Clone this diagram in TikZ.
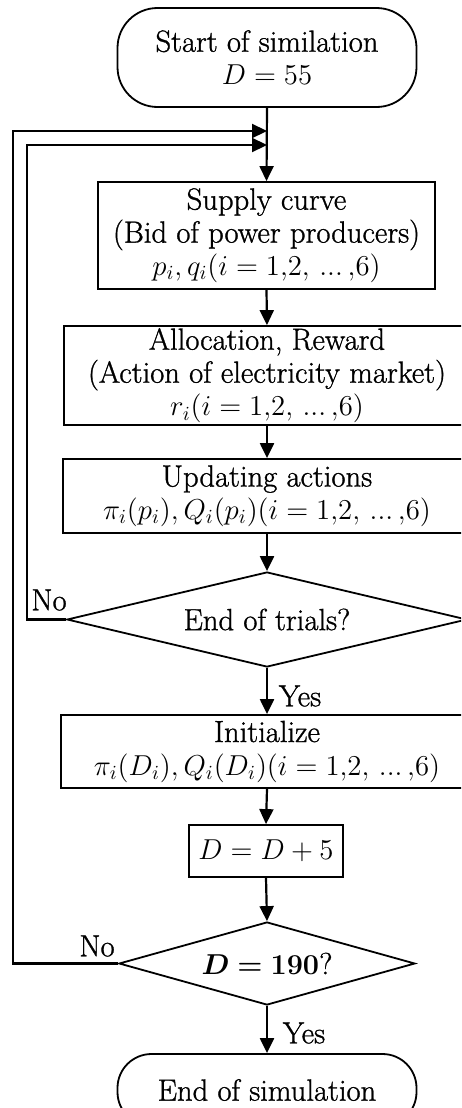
\documentclass[tikz,border=0pt]{standalone}
\usepackage{amsmath,bm}
\usepackage{fontspec}
\newfontfamily\ctext{Latin Modern Roman}[FakeBold=1]
\newcommand\mth[1]{{\fontsize{13.6}{16.5}\selectfont$#1$}}
\newcommand\dts{\,{.}{.}{.}\,}
\usetikzlibrary{arrows.meta,shapes.geometric}
\begin{document}
\begin{tikzpicture}[x=0.5pt,y=-0.5pt,
  txt/.style={font=\ctext\fontsize{15.3}{16.5}\selectfont,align=center,inner sep=0pt},
  box/.style={txt,draw,line width=0.9pt,rectangle},
  term/.style={txt,draw,line width=0.9pt,rectangle,rounded corners=20pt},
  dec/.style={txt,draw,line width=0.9pt,diamond,inner sep=0pt},
  arr/.style={line width=1.1pt,-{Triangle[length=7.5pt,width=7pt]}},
  lab/.style={font=\ctext\fontsize{15.3}{16.5}\selectfont,inner sep=0pt}]
\useasboundingbox (0,0) rectangle (461,1108);
\clip (0,0) rectangle (461,1108);
\fill[white] (0,0) rectangle (461,1108);
\node[term,minimum width=149.5pt,minimum height=49.5pt] (start) at (267,57.5) {Start of similation\\\mth{D = 55}};
\node[box,minimum width=168.5pt,minimum height=53.5pt] (supply) at (266.5,235.5) {Supply curve\\(Bid of power producers)\\\mth{p_i, q_i(i = 1{,}2,\dts{,}6)}};
\node[box,minimum width=203pt,minimum height=49.5pt] (alloc) at (267,375.5) {Allocation, Reward\\(Action of electricity market)\\\mth{r_i(i = 1{,}2,\dts{,}6)}};
\node[box,minimum width=204pt,minimum height=37pt] (upd) at (267,496) {Updating actions\\\mth{\pi_i(p_i), Q_i(p_i)(i = 1{,}2,\dts{,}6)}};
\node[dec,aspect=4.2,minimum width=200pt,minimum height=47.5pt] (trials) at (267,619.5) {End of trials?};
\node[box,minimum width=206pt,minimum height=36.5pt] (init) at (267,751.5) {Initialize\\\mth{\pi_i(D_i), Q_i(D_i)(i = 1{,}2,\dts{,}6)}};
\node[box,minimum width=77pt,minimum height=26pt] (dinc) at (266,851) {\mth{D = D + 5}};
\node[dec,aspect=3.57,minimum width=148pt,minimum height=41.5pt] (dend) at (267,963.5) {\mth{\bm{D = 190}}?};
\node[term,minimum width=149.5pt,minimum height=36pt,rounded corners=17pt] (fin) at (267,1090) {End of simulation};
\coordinate (j1) at (267,131);
\coordinate (j2) at (267,145);
\coordinate (lo) at (13,0);
\coordinate (li) at (27,0);
\draw[arr] (start.south) -- (supply.north);
\draw[arr] (supply.south) -- (alloc.north);
\draw[arr] (alloc.south) -- (upd.north);
\draw[arr] (upd.south) -- (trials.north);
\draw[arr] (trials.south) -- (init.north);
\draw[arr] (init.south) -- (dinc.north);
\draw[arr] (dinc.south) -- (dend.north);
\draw[arr] (dend.south) -- (fin.north);
\draw[arr] (trials.west) -- (trials.west -| li) |- (j2);
\draw[arr] (dend.west) -- (dend.west -| lo) |- (j1);
\node[lab] (no1) at (49,600) {No};
\node[lab] (no2) at (97,946) {No};
\node[lab] (yes1) at (300,696) {Yes};
\node[lab] (yes2) at (304,1033) {Yes};
\end{tikzpicture}
\end{document}
